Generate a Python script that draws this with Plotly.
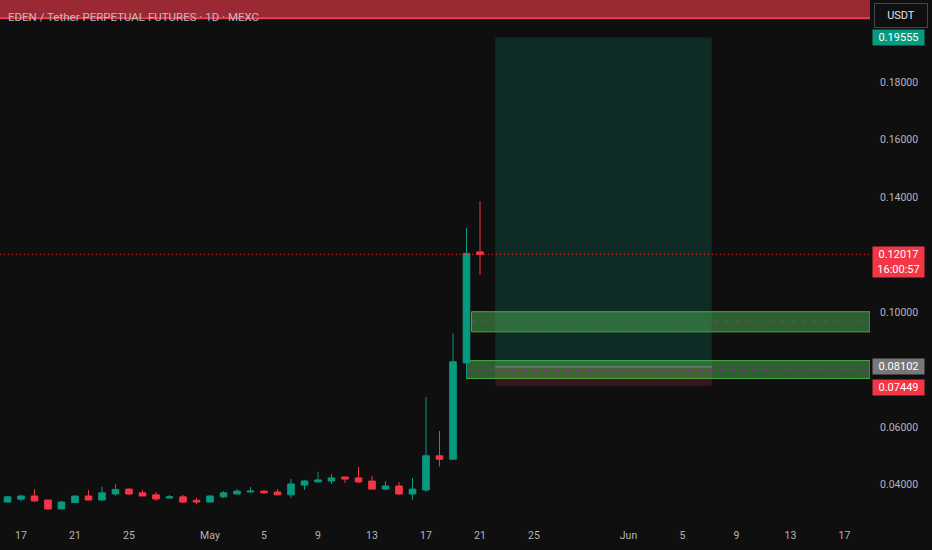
import plotly.graph_objects as go
import pandas as pd

# ---------------- data ----------------
dates = pd.date_range("2025-04-16", "2025-05-21", freq="D")
opens = [0.0340, 0.0350, 0.0361, 0.0347, 0.0316, 0.0338, 0.0361, 0.0347, 0.0368, 0.0385,
         0.0372, 0.0365, 0.0354, 0.0358, 0.0346, 0.0340, 0.0358, 0.0368, 0.0375, 0.0378,
         0.0375, 0.0365, 0.0399, 0.0410, 0.0413, 0.0427, 0.0424, 0.0413, 0.0385, 0.0396,
         0.0368, 0.0382, 0.0501, 0.0489, 0.0824, 0.1210]
highs = [0.0361, 0.0365, 0.0385, 0.0347, 0.0344, 0.0361, 0.0382, 0.0393, 0.0402, 0.0388,
         0.0382, 0.0375, 0.0365, 0.0365, 0.0354, 0.0365, 0.0378, 0.0385, 0.0392, 0.0382,
         0.0385, 0.0420, 0.0417, 0.0445, 0.0438, 0.0427, 0.0462, 0.0431, 0.0413, 0.0410,
         0.0424, 0.0706, 0.0587, 0.0927, 0.1294, 0.1387]
lows = [0.0340, 0.0343, 0.0341, 0.0313, 0.0316, 0.0338, 0.0347, 0.0347, 0.0362, 0.0365,
        0.0361, 0.0344, 0.0351, 0.0337, 0.0333, 0.0340, 0.0354, 0.0368, 0.0372, 0.0368,
        0.0365, 0.0354, 0.0382, 0.0410, 0.0403, 0.0406, 0.0406, 0.0385, 0.0382, 0.0365,
        0.0347, 0.0375, 0.0464, 0.0489, 0.0770, 0.1130]
closes = [0.0358, 0.0361, 0.0344, 0.0316, 0.0340, 0.0361, 0.0347, 0.0372, 0.0384, 0.0368,
          0.0361, 0.0351, 0.0358, 0.0340, 0.0340, 0.0361, 0.0372, 0.0378, 0.0378, 0.0372,
          0.0365, 0.0403, 0.0413, 0.0417, 0.0424, 0.0420, 0.0410, 0.0385, 0.0396, 0.0368,
          0.0385, 0.0501, 0.0489, 0.0828, 0.1205, 0.12017]

last_price = 0.12017
countdown = "16:00:57"

# long position tool
pos_start = "2025-05-22 03:00"
pos_end = "2025-06-07 04:00"
pos_target = 0.19555
pos_entry = 0.08102
pos_stop = 0.07449

# horizontal zones (drawings)
zone_starts = ["2025-05-20 09:00", "2025-05-20 00:00"]
zone_tops = [0.1002, 0.0832]
zone_bottoms = [0.0932, 0.0770]
zone_mids = [0.0967, 0.0799]

# red resistance band at the top
top_band_low = 0.2023

x_ticks = ["2025-04-17", "2025-04-21", "2025-04-25", "2025-05-01", "2025-05-05", "2025-05-09",
           "2025-05-13", "2025-05-17", "2025-05-21", "2025-05-25", "2025-06-01", "2025-06-05",
           "2025-06-09", "2025-06-13", "2025-06-17"]
x_tick_text = ["17", "21", "25", "May", "5", "9", "13", "17", "21", "25", "Jun", "5", "9", "13", "17"]
y_ticks = [0.04, 0.06, 0.10, 0.14, 0.16, 0.18]
y_tick_text = ["%.5f" % v for v in y_ticks]

X_RANGE = ["2025-04-15 10:40", "2025-06-18 21:20"]
Y_RANGE = [0.02706, 0.20863]

# ---------------- styling ----------------
BG = "#0f0f0f"
UP = "#089981"
DOWN = "#f23645"
TXT = "#b2b5be"
FONT = "Roboto"

fig = go.Figure()
fig.add_trace(go.Candlestick(
    x=dates, open=opens, high=highs, low=lows, close=closes,
    increasing=dict(line=dict(color=UP, width=1), fillcolor=UP),
    decreasing=dict(line=dict(color=DOWN, width=1), fillcolor=DOWN),
    whiskerwidth=0, showlegend=False, hoverinfo="skip",
))

shapes = []
# top red band
shapes.append(dict(type="rect", xref="paper", x0=0, x1=1, yref="y", y0=top_band_low, y1=0.22,
                   fillcolor="#9b2934", line=dict(width=0), layer="below"))
shapes.append(dict(type="line", xref="paper", x0=0, x1=1, yref="y", y0=top_band_low, y1=top_band_low,
                   line=dict(color="#e8404e", width=2), layer="below"))
# position tool
shapes.append(dict(type="rect", xref="x", yref="y", x0=pos_start, x1=pos_end, y0=pos_entry, y1=pos_target,
                   fillcolor="rgba(8,153,129,0.2)", line=dict(width=0), layer="below"))
shapes.append(dict(type="rect", xref="x", yref="y", x0=pos_start, x1=pos_end, y0=pos_stop, y1=pos_entry,
                   fillcolor="rgba(242,54,69,0.2)", line=dict(width=0), layer="below"))
# zones
for xs, top, bot, mid in zip(zone_starts, zone_tops, zone_bottoms, zone_mids):
    shapes.append(dict(type="rect", xref="x", yref="y", x0=xs, x1=X_RANGE[1], y0=bot, y1=top,
                       fillcolor="rgba(76,175,80,0.5)", line=dict(color="rgba(76,175,80,0.95)", width=1),
                       layer="below"))
    shapes.append(dict(type="line", xref="x", yref="y", x0=xs, x1=X_RANGE[1], y0=mid, y1=mid,
                       line=dict(color="rgba(156,39,176,1)", width=1, dash="5px,6px"), layer="below"))
# entry line
shapes.append(dict(type="line", xref="x", yref="y", x0=pos_start, x1=pos_end, y0=pos_entry, y1=pos_entry,
                   line=dict(color="rgba(140,143,150,0.9)", width=1), layer="below"))
# last price dotted line
shapes.append(dict(type="line", xref="paper", x0=0, x1=1, yref="y", y0=last_price, y1=last_price,
                   line=dict(color=DOWN, width=1, dash="1px,3px"), layer="above"))

annotations = []
annotations.append(dict(text="EDEN / Tether PERPETUAL FUTURES · 1D · MEXC", xref="paper", yref="paper",
                        x=0, y=1, xanchor="left", yanchor="top", xshift=6, yshift=-8, showarrow=False,
                        font=dict(family=FONT, size=11.5, color="rgba(200,202,210,0.9)")))
annotations.append(dict(text="USDT", xref="paper", yref="paper", x=1, y=1, xanchor="left", yanchor="top",
                        xshift=4, yshift=-3, showarrow=False, width=52, height=23, borderpad=0,
                        bordercolor="#434651", borderwidth=1,
                        font=dict(family=FONT, size=11, color="#e0e3eb")))


def price_label(txt, y, bg, h=15, yanchor="middle", yshift=0):
    annotations.append(dict(text=txt, xref="paper", yref="y", x=1, y=y, xanchor="left", yanchor=yanchor,
                            xshift=2, yshift=yshift, showarrow=False, width=51, height=h, borderpad=0,
                            bgcolor=bg, font=dict(family=FONT, size=11, color="#ffffff")))


price_label("%.5f" % pos_target, pos_target, UP)
price_label("%.5f" % last_price + "<br>" + countdown, last_price, DOWN, h=30, yanchor="top", yshift=8)
price_label("%.5f" % pos_entry, pos_entry, "#787878")
price_label("%.5f" % pos_stop, pos_stop, DOWN, yshift=-2)

fig.update_layout(
    width=932, height=550,
    margin=dict(l=0, r=62, t=0, b=28),
    paper_bgcolor=BG, plot_bgcolor=BG,
    shapes=shapes, annotations=annotations,
    font=dict(family=FONT, color=TXT),
    showlegend=False,
    xaxis=dict(range=X_RANGE, type="date", rangeslider=dict(visible=False), showgrid=False,
               zeroline=False, showline=False, tickvals=x_ticks, ticktext=x_tick_text, ticks="",
               tickfont=dict(family=FONT, size=10.5, color=TXT), ticklabelstandoff=5, fixedrange=True),
    yaxis=dict(range=Y_RANGE, side="right", showgrid=False, zeroline=False, showline=False,
               tickvals=y_ticks, ticktext=y_tick_text, ticks="",
               tickfont=dict(family=FONT, size=10.5, color=TXT), ticklabelstandoff=9, fixedrange=True),
)

fig.write_html("out.html", config=dict(displayModeBar=False),
               post_script="document.body.style.margin='0';document.body.style.background='#0f0f0f';")
